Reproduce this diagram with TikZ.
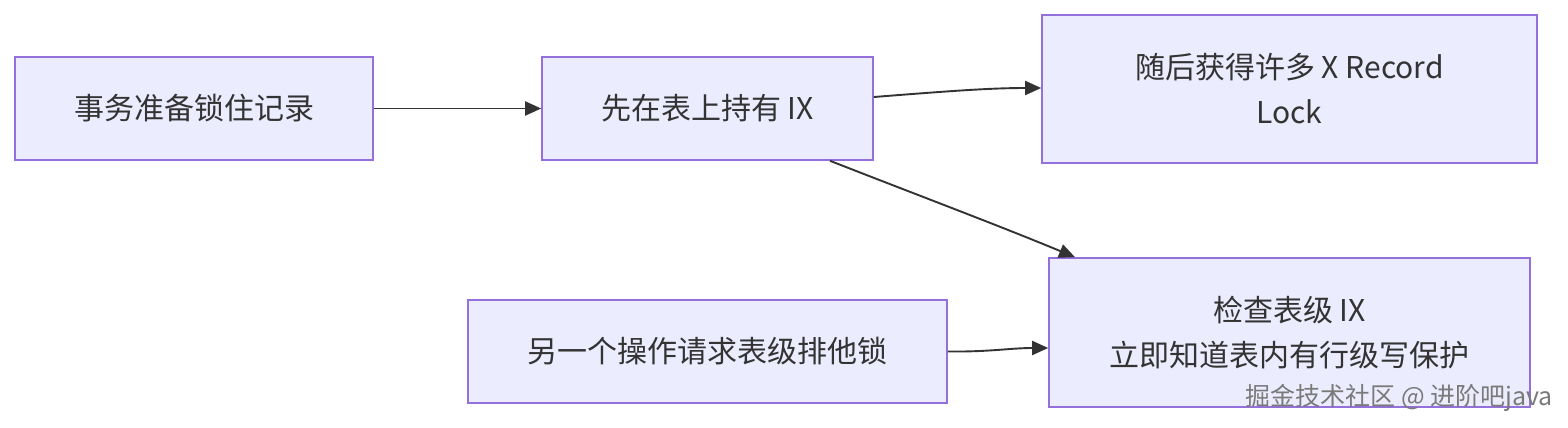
\documentclass[tikz,border=0pt]{standalone}
\usepackage{fontspec}
\setmainfont{Noto Sans CJK SC}
\usetikzlibrary{arrows.meta}
\definecolor{boxfill}{HTML}{ECECFF}
\definecolor{boxline}{HTML}{9370DB}
\definecolor{txt}{HTML}{333333}
\definecolor{wm}{HTML}{7A7A7A}
\tikzset{
  flowbox/.style={draw=boxline, fill=boxfill, line width=1.6pt, text=txt,
    font=\fontsize{30}{45}\selectfont, align=center, inner sep=0pt},
  flowarrow/.style={draw=txt, line width=1.9pt, -{Triangle[length=16pt,width=14pt]}},
}
\begin{document}
\begin{tikzpicture}[x=1pt,y=-1pt]
\useasboundingbox (0,0) rectangle (1568,428);
\node[flowbox, minimum width=358pt, minimum height=103pt] (A) at (194,108.5) {事务准备锁住记录};
\node[flowbox, minimum width=331pt, minimum height=103pt] (B) at (707.5,108.5) {先在表上持有 IX};
\node[flowbox, minimum width=495pt, minimum height=148pt] (C) at (1289.5,89) {随后获得许多 X Record\\Lock};
\node[flowbox, minimum width=481pt, minimum height=149pt] (D) at (1289.5,332.5) {检查表级 IX\\立即知道表内有行级写保护};
\node[flowbox, minimum width=479pt, minimum height=103pt] (E) at (707.5,351.5) {另一个操作请求表级排他锁};
\draw[flowarrow] (A.east) -- (B.west);
\coordinate (bc1) at ([yshift=11.5pt]B.east);
\coordinate (bc2) at ([yshift=1pt]C.west);
\draw[flowarrow] (bc1) .. controls (950,91) and (990,88) .. (bc2);
\coordinate (bd1) at ([xshift=122.5pt]B.south);
\coordinate (bd2) at ([xshift=-214.5pt]D.north);
\draw[flowarrow] (bd1) .. controls (920,196) and (1000,226) .. (bd2);
\coordinate (ed2) at ([yshift=-15.5pt]D.west);
\draw[flowarrow] (E.east) .. controls (990,352) and (1010,348) .. (ed2);
\node[text=wm, font=\fontsize{25}{28}\selectfont, anchor=east, inner sep=0pt] (W) at (1553,398) {掘金技术社区 @ 进阶吧java};
\end{tikzpicture}
\end{document}
